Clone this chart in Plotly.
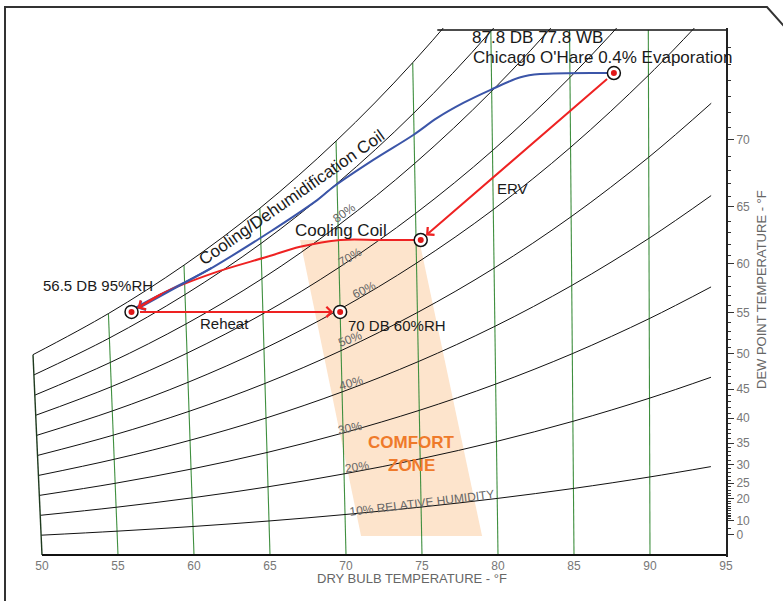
import math
import plotly.graph_objects as go

# ---------------- data ----------------
P_ATM = 14.696                                   # psia
DB_GRID = [50, 55, 60, 65, 70, 75, 80, 85, 90, 94]  # dry bulb, °F
PWS_GRID = [0.17813, 0.21414, 0.25634, 0.30561, 0.36334,
            0.43016, 0.50745, 0.59665, 0.69904, 0.79130]  # saturation pressure, psia
RH_LEVELS = [0.1, 0.2, 0.3, 0.4, 0.5, 0.6, 0.7, 0.8, 0.9, 1.0]
DB_LINES = [55, 60, 65, 70, 75, 80, 85, 90]
DB_LEFT = 50
W_TOP = 0.020
DB_SAT_AT_TOP = 76.6

X_TICKS = [50, 55, 60, 65, 70, 75, 80, 85, 90, 95]
DP_TICK_LABELS = ["0", "10", "20", "25", "30", "35", "40", "45",
                  "50", "55", "60", "65", "70"]
DP_TICK_W = [0.000787, 0.001315, 0.002152, 0.002733, 0.003454,
             0.004262, 0.005213, 0.006324, 0.007658, 0.009244, 0.011087,
             0.013267, 0.015832]
DP_MINOR = [5, 15] + [d for d in range(11, 77) if d % 5 != 0 or d > 70]

# process states
STATE_DB = [87.8, 75.3, 56.5, 70.0]
STATE_W = [0.01836, 0.0120, 0.00926, 0.00926]

# cooling / dehumidification coil path (blue)
BLUE_DB = [87.8, 83.1, 81.85, 79.9, 78.18, 76.5, 74.95, 72.36, 69.75, 68.70, 61.88, 56.88, 56.5]
BLUE_W = [0.01836, 0.01832, 0.0182, 0.01771, 0.01722, 0.01665, 0.0160, 0.01505,
          0.01402, 0.01352, 0.01097, 0.00945, 0.00926]

# cooling coil path (red)
RED_DB = [75.3, 72.69, 70.12, 67.52, 65.38, 61.87, 58.59, 56.5]
RED_W = [0.0120, 0.0120, 0.0120, 0.01174, 0.01136, 0.01074, 0.00998, 0.00926]

# comfort zone
COMFORT_DB = [67.53, 75.2, 78.97, 71.02]
COMFORT_W = [0.0120, 0.0120, 0.00072, 0.00072]

RH_LABELS = ["80%", "70%", "60%", "50%", "40%", "30%", "20%", "10% RELATIVE HUMIDITY"]

# ---------------- chart geometry helpers ----------------
FONT = "Liberation Sans, Arial, sans-serif"
PX_PER_F = 15.2
PX_PER_W = 26250.0
L, R, T, B = 30, 726, 28, 557   # plot area in page pixels


def chart_x(db, w):
    """slight skew of the dry-bulb lines on the psychrometric chart"""
    return db - 1.8 * (93.1 - db) * w


def hum_ratio(phi, pws):
    return 0.622 * phi * pws / (P_ATM - phi * pws)


def dp_to_w(tf):
    tc = (tf - 32) / 1.8
    if tc >= 0:
        e = 6.112 * math.exp(17.62 * tc / (243.12 + tc))
    else:
        e = 6.112 * math.exp(22.46 * tc / (272.62 + tc))
    return 0.622 * e / (1013.25 - e)


def pxp(px):
    return (px - L) / (R - L)


def pyp(py):
    return (B - py) / (B - T)


fig = go.Figure()

# comfort zone
fig.add_trace(go.Scatter(
    x=[chart_x(d, w) for d, w in zip(COMFORT_DB, COMFORT_W)],
    y=COMFORT_W, fill="toself", fillcolor="#fde4cc",
    mode="lines", line=dict(width=0), hoverinfo="skip"))

# dry bulb lines
gx, gy = [], []
for t in DB_LINES:
    ws = hum_ratio(1.0, PWS_GRID[DB_GRID.index(t)])
    wt = min(ws, W_TOP)
    gx += [chart_x(t, 0), chart_x(t, wt), None]
    gy += [0, wt, None]
fig.add_trace(go.Scatter(x=gx, y=gy, mode="lines",
                         line=dict(color="#3f8f3f", width=1.1), hoverinfo="skip"))

# relative humidity curves
for phi in RH_LEVELS:
    ws = [hum_ratio(phi, p) for p in PWS_GRID]
    xs = [chart_x(t, w) for t, w in zip(DB_GRID, ws)]
    fig.add_trace(go.Scatter(x=xs, y=ws, mode="lines", line_shape="spline",
                             line=dict(color="#111111", width=1), hoverinfo="skip"))

# 50 F boundary
ws50 = hum_ratio(1.0, PWS_GRID[0])
fig.add_trace(go.Scatter(x=[chart_x(DB_LEFT, 0), chart_x(DB_LEFT, ws50)], y=[0, ws50],
                         mode="lines", line=dict(color="#1e3a1e", width=1.4), hoverinfo="skip"))
# bottom line
fig.add_trace(go.Scatter(x=[50, 95], y=[0, 0], mode="lines",
                         line=dict(color="#111111", width=2), hoverinfo="skip"))
# top line
fig.add_trace(go.Scatter(x=[chart_x(DB_SAT_AT_TOP, W_TOP), 95], y=[W_TOP, W_TOP], mode="lines",
                         line=dict(color="#111111", width=1.4), hoverinfo="skip"))

# process lines
fig.add_trace(go.Scatter(x=[chart_x(d, w) for d, w in zip(BLUE_DB, BLUE_W)], y=BLUE_W,
                         mode="lines", line_shape="spline",
                         line=dict(color="#3b55a8", width=2), hoverinfo="skip"))
fig.add_trace(go.Scatter(x=[chart_x(d, w) for d, w in zip(RED_DB, RED_W)], y=RED_W,
                         mode="lines", line_shape="spline",
                         line=dict(color="#ee2222", width=2), hoverinfo="skip"))

# state points
sx = [chart_x(d, w) for d, w in zip(STATE_DB, STATE_W)]
fig.add_trace(go.Scatter(x=sx, y=STATE_W, mode="markers",
                         marker=dict(size=13, color="white", line=dict(color="#111111", width=1.5)),
                         hoverinfo="skip"))
fig.add_trace(go.Scatter(x=sx, y=STATE_W, mode="markers",
                         marker=dict(size=6, color="#e01818"), hoverinfo="skip"))

ann = []


def arrow(db_h, w_h, db_t, w_t, color, start=0):
    ann.append(dict(x=chart_x(db_h, w_h), y=w_h, ax=chart_x(db_t, w_t), ay=w_t,
                    xref="x", yref="y", axref="x", ayref="y", text="", showarrow=True,
                    arrowhead=4, arrowsize=1, arrowwidth=2, arrowcolor=color,
                    standoff=7, startstandoff=start))


arrow(STATE_DB[1], STATE_W[1], STATE_DB[0], STATE_W[0], "#ee2222", 7)   # ERV
arrow(STATE_DB[3], STATE_W[3], STATE_DB[2], STATE_W[2], "#ee2222", 7)   # reheat
arrow(STATE_DB[2], STATE_W[2], BLUE_DB[-3], BLUE_W[-3], "#3b55a8")
arrow(STATE_DB[2], STATE_W[2], RED_DB[-2], RED_W[-2], "#ee2222")


def label(px, py, text, size=15, color="#1a1a1a", angle=0, xanchor="center", bold=False):
    t = f"<b>{text}</b>" if bold else text
    ann.append(dict(x=pxp(px), y=pyp(py), xref="paper", yref="paper", text=t, showarrow=False,
                    textangle=angle, xanchor=xanchor, yanchor="middle",
                    font=dict(family=FONT, size=size, color=color)))


label(470, 38, "87.8 DB 77.8 WB", 17, xanchor="left")
label(471, 58, "Chicago O'Hare 0.4% Evaporation", 17, xanchor="left")
label(292, 198, "Cooling/Dehumidification Coil", 17, angle=-35)
label(341, 230, "Cooling Coil", 17)
label(98, 285, "56.5 DB 95%RH", 15)
label(224, 323, "Reheat", 15)
label(397, 325, "70 DB 60%RH", 15)
label(512, 188, "ERV", 15)
label(411, 443, "COMFORT", 17, color="#ef7a2a", bold=True)
label(411, 465, "ZONE", 17, color="#ef7a2a", bold=True)

rh_pos = [(344, 213, -35), (350, 257, -30), (364, 290, -26), (350, 339, -21),
          (351, 383, -16), (350, 428, -12), (357, 467, -9), (422, 503, -7)]
for txt, (px, py, ang) in zip(RH_LABELS, rh_pos):
    label(px, py, txt, 12, color="#666666", angle=ang)

label(412, 578, "DRY BULB TEMPERATURE - °F", 13, color="#666666")
label(761, 290, "DEW POINT TEMPERATURE - °F", 13, color="#666666", angle=-90)

# outer frame
frame = (f"M {pxp(5)},{pyp(610)} L {pxp(5)},{pyp(7)} L {pxp(767)},{pyp(7)} "
         f"L {pxp(792)},{pyp(35)}")

fig.update_layout(
    width=783, height=601,
    margin=dict(l=L, r=783 - R, t=T, b=601 - B),
    paper_bgcolor="white", plot_bgcolor="white",
    showlegend=False, annotations=ann, hovermode=False,
    shapes=[dict(type="path", path=frame, xref="paper", yref="paper",
                 line=dict(color="#333333", width=2))],
    xaxis=dict(range=[95 - (R - L) / PX_PER_F, 95], tickvals=X_TICKS,
               ticktext=[str(v) for v in X_TICKS], showgrid=False, zeroline=False,
               showline=False, ticks="", tickfont=dict(family=FONT, size=12, color="#777777")),
    yaxis=dict(range=[-(B - 555) / PX_PER_W, (555 - T) / PX_PER_W], side="right",
               tickvals=DP_TICK_W, ticktext=DP_TICK_LABELS, showgrid=False, zeroline=False,
               showline=True, linecolor="#222222", linewidth=2, ticks="outside",
               ticklen=6, tickcolor="#333333", tickwidth=1,
               tickfont=dict(family=FONT, size=12, color="#777777"),
               minor=dict(tickmode="array", tickvals=[dp_to_w(d) for d in DP_MINOR],
                          ticks="outside", ticklen=3, tickcolor="#333333", tickwidth=1,
                          showgrid=False)),
)

fig.write_html("out.html", config={"displayModeBar": False},
               post_script="document.body.style.margin='0px';document.body.style.overflow='hidden';")
